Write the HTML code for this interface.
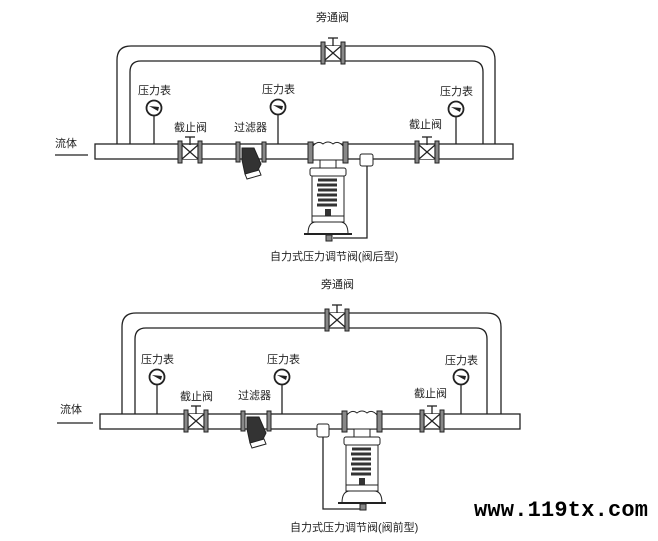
<!DOCTYPE html>
<html><head><meta charset="utf-8"><style>
html,body{margin:0;padding:0;background:#fff;}
svg{display:block}
text{font-family:"Liberation Sans","Noto Sans CJK SC",sans-serif;font-size:11px;fill:#222}
</style></head><body>
<svg width="658" height="541" viewBox="0 0 658 541" xmlns="http://www.w3.org/2000/svg">
<defs>
<g id="valve">
 <line x1="0" y1="0" x2="0" y2="-15" stroke="#222" stroke-width="1.3"/>
 <line x1="-5" y1="-15" x2="5" y2="-15" stroke="#222" stroke-width="1.3"/>
 <rect x="-8" y="-7" width="16" height="14" fill="#fff"/>
 <polygon points="-8,-7 8,7 8,-7 -8,7" fill="#fff" stroke="#222" stroke-width="1.2"/>
 <rect x="-12" y="-11" width="4" height="22" fill="#888" stroke="#222"/>
 <rect x="8" y="-11" width="4" height="22" fill="#888" stroke="#222"/>
</g>
<g id="gauge">
 <circle cx="0" cy="0" r="7.5" fill="#fff" stroke="#222" stroke-width="1.8"/>
 <polygon points="-5,-2 5,-1 4,3" fill="#222"/>
</g>
<g id="filter">
 <rect x="-15" y="-10" width="4" height="20" fill="#888" stroke="#222"/>
 <rect x="11" y="-10" width="4" height="20" fill="#888" stroke="#222"/>
 <polygon points="-9,-4 3,-4 10,12 6,20 -6,22 -9,8" fill="#333" stroke="#222"/>
 <polygon points="-6,22 8,18 10,23 -4,27" fill="#fff" stroke="#222"/>
</g>
<g id="reg">
 <rect x="-20" y="-10" width="5" height="21" fill="#888" stroke="#222"/>
 <rect x="15" y="-10" width="5" height="21" fill="#888" stroke="#222"/>
 <path d="M-15,-6 Q-10,-12 -5,-8 Q0,-12 5,-8 Q10,-12 15,-6 L15,8 L-15,8 Z" fill="#fff" stroke="#222"/>
 <rect x="-8" y="8" width="16" height="8" fill="#fff" stroke="#222"/>
 <rect x="-18" y="16" width="36" height="8" rx="2" fill="#fff" stroke="#222"/>
 <rect x="-16" y="24" width="32" height="44" fill="#fff" stroke="#222"/>
 <path d="M-10,28 h19 M-11,33 h20 M-10,38 h19 M-11,43 h20 M-10,48 h19 M-11,53 h20" stroke="#333" stroke-width="3"/>
 <rect x="-3" y="57" width="6" height="7" fill="#333"/>
 <rect x="-16" y="64" width="32" height="6" fill="#fff" stroke="#222"/>
 <path d="M-20,82 Q-20,70 -12,70 L12,70 Q20,70 20,82 Z" fill="#fff" stroke="#222"/>
 <line x1="-24" y1="82" x2="24" y2="82" stroke="#222" stroke-width="2"/>
 <rect x="-2" y="83" width="6" height="6" fill="#888" stroke="#222"/>
</g>
</defs>

<!-- ================= TOP ================= -->
<g fill="none" stroke="#222" stroke-width="1.3">
 <path d="M117,144 V60 Q117,46 131,46 H481 Q495,46 495,60 V144"/>
 <path d="M130,144 V72 Q130,61 141,61 H472 Q483,61 483,72 V144"/>
</g>
<rect x="95" y="144" width="418" height="15" fill="#fff" stroke="#222" stroke-width="1.3"/>
<line x1="55" y1="155" x2="88" y2="155" stroke="#222" stroke-width="1.2"/>
<text x="55" y="147">流体</text>
<use href="#valve" x="333" y="53"/>
<text x="316" y="21">旁通阀</text>
<line x1="154" y1="115" x2="154" y2="144" stroke="#222" stroke-width="1.3"/>
<use href="#gauge" x="154" y="108"/>
<text x="138" y="94">压力表</text>
<line x1="278" y1="114" x2="278" y2="144" stroke="#222" stroke-width="1.3"/>
<use href="#gauge" x="278" y="107"/>
<text x="262" y="93">压力表</text>
<line x1="456" y1="116" x2="456" y2="144" stroke="#222" stroke-width="1.3"/>
<use href="#gauge" x="456" y="109"/>
<text x="440" y="95">压力表</text>
<use href="#valve" x="190" y="152"/>
<text x="174" y="131">截止阀</text>
<use href="#filter" x="251" y="152"/>
<text x="234" y="131">过滤器</text>
<use href="#valve" x="427" y="152"/>
<text x="409" y="128">截止阀</text>
<use href="#reg" x="328" y="152"/>
<rect x="360" y="154" width="13" height="12" rx="2" fill="#fff" stroke="#222"/>
<path d="M367,166 V238 H333" fill="none" stroke="#222" stroke-width="1.3"/>
<text x="270" y="260">自力式压力调节阀(阀后型)</text>

<!-- ================= BOTTOM ================= -->
<g fill="none" stroke="#222" stroke-width="1.3">
 <path d="M122,414 V327 Q122,313 136,313 H487 Q501,313 501,327 V414"/>
 <path d="M135,414 V339 Q135,328 146,328 H476 Q487,328 487,339 V414"/>
</g>
<rect x="100" y="414" width="420" height="15" fill="#fff" stroke="#222" stroke-width="1.3"/>
<line x1="57" y1="423" x2="93" y2="423" stroke="#222" stroke-width="1.2"/>
<text x="60" y="413">流体</text>
<use href="#valve" x="337" y="320"/>
<text x="321" y="288">旁通阀</text>
<line x1="157" y1="384" x2="157" y2="414" stroke="#222" stroke-width="1.3"/>
<use href="#gauge" x="157" y="377"/>
<text x="141" y="363">压力表</text>
<line x1="282" y1="384" x2="282" y2="414" stroke="#222" stroke-width="1.3"/>
<use href="#gauge" x="282" y="377"/>
<text x="267" y="363">压力表</text>
<line x1="461" y1="384" x2="461" y2="414" stroke="#222" stroke-width="1.3"/>
<use href="#gauge" x="461" y="377"/>
<text x="445" y="364">压力表</text>
<use href="#valve" x="196" y="421"/>
<text x="180" y="400">截止阀</text>
<use href="#filter" x="256" y="421"/>
<text x="238" y="399">过滤器</text>
<use href="#valve" x="432" y="421"/>
<text x="414" y="397">截止阀</text>
<use href="#reg" x="362" y="421"/>
<rect x="317" y="424" width="12" height="13" rx="2" fill="#fff" stroke="#222"/>
<path d="M323,437 V509 H360" fill="none" stroke="#222" stroke-width="1.3"/>
<text x="290" y="531">自力式压力调节阀(阀前型)</text>

<text x="474" y="516" textLength="174" style="font-family:'Liberation Mono',monospace;font-size:22px;font-weight:bold;fill:#000">www.119tx.com</text>
</svg>
</body></html>
